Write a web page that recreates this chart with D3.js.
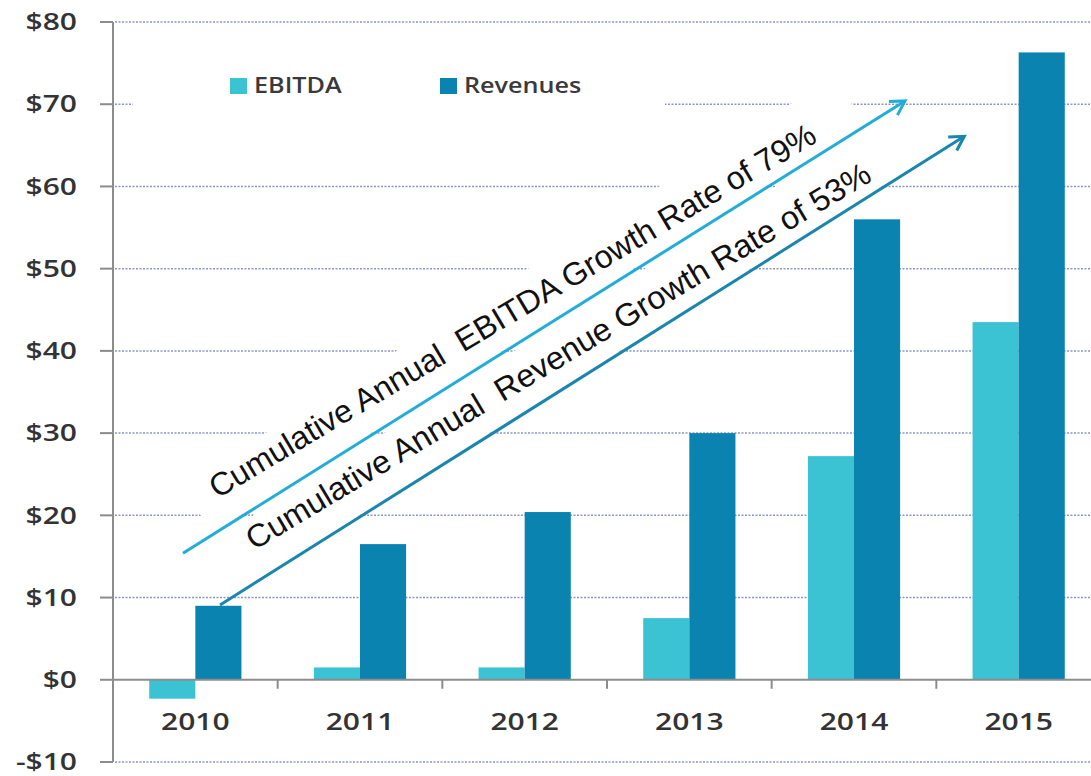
<!DOCTYPE html>
<html>
<head>
<meta charset="utf-8">
<script src="https://cdn.jsdelivr.net/npm/d3@7"></script>
<style>
  html, body { margin: 0; padding: 0; background: #fff; }
  svg { display: block; }
</style>
</head>
<body>
<div id="chart"></div>
<script>
// Chart data
const years = ['2010', '2011', '2012', '2013', '2014', '2015'];
const seriesNames = ['EBITDA', 'Revenues'];
const ebitda = [-2.3, 1.5, 1.5, 7.5, 27.2, 43.5];
const revenues = [9.0, 16.5, 20.4, 30.0, 56.0, 76.3];
const yTicks = [-10, 0, 10, 20, 30, 40, 50, 60, 70, 80];
const yTickLabels = ['-$10', '$0', '$10', '$20', '$30', '$40', '$50', '$60', '$70', '$80'];

// Growth arrows, in (category index, value) units
const arrowFrom = [[0.425, 15.4], [0.65, 9.1]];
const arrowTo = [[4.81, 70.4], [5.17, 66.1]];
const arrowLabels = ['Cumulative Annual  EBITDA Growth Rate of 79%',
                     'Cumulative Annual  Revenue Growth Rate of 53%'];

const W = 1091, H = 776;
const colors = { EBITDA: '#3bc2d3', Revenues: '#0b83b0' };
const arrowColors = ['#22acd8', '#1a85ad'];
const textScale = 1.25; // the reference text is stretched horizontally

const svg = d3.select('#chart').append('svg')
    .attr('width', W).attr('height', H);

svg.append('rect').attr('width', W).attr('height', H).attr('fill', '#fff');

const x0 = d3.scaleBand().domain(years).range([113, 1101]).padding(0);
const bw = x0.bandwidth();
const x1 = d3.scaleBand().domain(seriesNames).range([bw * 0.22, bw * 0.78]).padding(0);
const xIdx = d3.scaleLinear().domain([0, years.length]).range(x0.range());
const y = d3.scaleLinear().domain([-10, 80]).range([762, 22]);

// dotted gridlines
svg.append('g')
    .selectAll('line')
    .data(yTicks.filter(d => d !== 0))
    .join('line')
    .attr('x1', 115).attr('x2', W)
    .attr('y1', d => y(d)).attr('y2', d => y(d))
    .attr('stroke', '#8a96c8')
    .attr('stroke-width', 1.5)
    .attr('stroke-dasharray', '2,1.5');

// white backing for the legend
svg.append('rect')
    .attr('x', 133).attr('y', 62).attr('width', 532).attr('height', 52)
    .attr('fill', '#fff');

// arrow geometry in pixels
const arrows = arrowFrom.map((f, i) => {
    const p0 = [xIdx(f[0]), y(f[1])];
    const p1 = [xIdx(arrowTo[i][0]), y(arrowTo[i][1])];
    const ang = Math.atan2(p1[1] - p0[1], p1[0] - p0[0]) * 180 / Math.PI;
    return { p0, p1, ang };
});

// white boxes behind annotation text (they hide the gridlines)
const textLengths = [700, 722];
arrows.forEach((a, i) => {
    svg.append('rect')
        .attr('transform', `translate(${a.p0[0]},${a.p0[1]}) rotate(${a.ang})`)
        .attr('x', 35).attr('y', -58)
        .attr('width', textLengths[i] + 70).attr('height', 56)
        .attr('fill', '#fff');
});

// bars
const groups = svg.append('g')
    .selectAll('g')
    .data(years.map((yr, i) => ({ yr, vals: [ebitda[i], revenues[i]] })))
    .join('g')
    .attr('transform', d => `translate(${x0(d.yr)},0)`);

groups.selectAll('rect')
    .data(d => d.vals.map((v, j) => ({ key: seriesNames[j], v })))
    .join('rect')
    .attr('x', d => x1(d.key))
    .attr('width', x1.bandwidth())
    .attr('y', d => y(Math.max(0, d.v)))
    .attr('height', d => Math.abs(y(d.v) - y(0)))
    .attr('fill', d => colors[d.key]);

// y axis
const yAxis = svg.append('g');
yAxis.append('line')
    .attr('x1', 113).attr('x2', 113)
    .attr('y1', y(80)).attr('y2', y(-10))
    .attr('stroke', '#8c8c8c').attr('stroke-width', 2);
yAxis.selectAll('line.tick')
    .data(yTicks)
    .join('line')
    .attr('class', 'tick')
    .attr('x1', 100).attr('x2', 113)
    .attr('y1', d => y(d)).attr('y2', d => y(d))
    .attr('stroke', '#8c8c8c').attr('stroke-width', 2);
yAxis.selectAll('text')
    .data(yTicks)
    .join('text')
    .attr('transform', d => `translate(77,${y(d)}) scale(${textScale},1)`)
    .attr('dy', '0.34em')
    .attr('text-anchor', 'end')
    .style('font-family', '"Open Sans", sans-serif')
    .style('font-size', '24px')
    .style('font-weight', 600)
    .attr('fill', '#333')
    .text((d, i) => yTickLabels[i]);

// x axis at zero
const xAxis = svg.append('g');
xAxis.append('line')
    .attr('x1', 113).attr('x2', W)
    .attr('y1', y(0)).attr('y2', y(0))
    .attr('stroke', '#8c8c8c').attr('stroke-width', 2);
xAxis.selectAll('line.tick')
    .data(years.slice(1))
    .join('line')
    .attr('class', 'tick')
    .attr('x1', d => x0(d)).attr('x2', d => x0(d))
    .attr('y1', y(0)).attr('y2', y(0) + 9)
    .attr('stroke', '#8c8c8c').attr('stroke-width', 2);
xAxis.selectAll('text')
    .data(years)
    .join('text')
    .attr('transform', d => `translate(${x0(d) + bw / 2},${y(0) + 50}) scale(${textScale},1)`)
    .attr('text-anchor', 'middle')
    .style('font-family', '"Open Sans", sans-serif')
    .style('font-size', '24px')
    .style('font-weight', 600)
    .attr('fill', '#333')
    .text(d => d);

// legend
const legendX = [230, 440];
const legend = svg.append('g')
    .selectAll('g')
    .data(seriesNames)
    .join('g')
    .attr('transform', (d, i) => `translate(${legendX[i]},78)`);
legend.append('rect')
    .attr('width', 17).attr('height', 16)
    .attr('fill', d => colors[d]);
legend.append('text')
    .attr('transform', `translate(24,15) scale(1.2,1)`)
    .style('font-family', '"Open Sans", sans-serif')
    .style('font-size', '21px')
    .style('font-weight', 600)
    .attr('fill', '#3a3a3a')
    .text(d => d);

// arrowheads
const defs = svg.append('defs');
arrowColors.forEach((c, i) => {
    defs.append('marker')
        .attr('id', 'head' + i)
        .attr('viewBox', '0 0 20 20')
        .attr('refX', 17).attr('refY', 10)
        .attr('markerWidth', 20).attr('markerHeight', 20)
        .attr('markerUnits', 'userSpaceOnUse')
        .attr('orient', 'auto')
        .append('path')
        .attr('d', 'M3,2 L17,10 L3,18')
        .attr('fill', 'none')
        .attr('stroke', c)
        .attr('stroke-width', 3);
});

// growth arrows + rotated labels (text sits ~1.3 deg flatter than its arrow)
arrows.forEach((a, i) => {
    svg.append('line')
        .attr('x1', a.p0[0]).attr('y1', a.p0[1])
        .attr('x2', a.p1[0]).attr('y2', a.p1[1])
        .attr('stroke', arrowColors[i])
        .attr('stroke-width', 3)
        .attr('marker-end', `url(#head${i})`);

    svg.append('text')
        .attr('transform', `translate(${a.p0[0]},${a.p0[1]}) rotate(${a.ang + 1.3})`)
        .attr('x', 57).attr('y', -29)
        .attr('textLength', textLengths[i])
        .attr('lengthAdjust', 'spacingAndGlyphs')
        .style('white-space', 'pre')
        .style('font-family', '"Liberation Sans", Arial, sans-serif')
        .style('font-size', '32px')
        .attr('fill', '#111')
        .text(arrowLabels[i]);
});
</script>
</body>
</html>
